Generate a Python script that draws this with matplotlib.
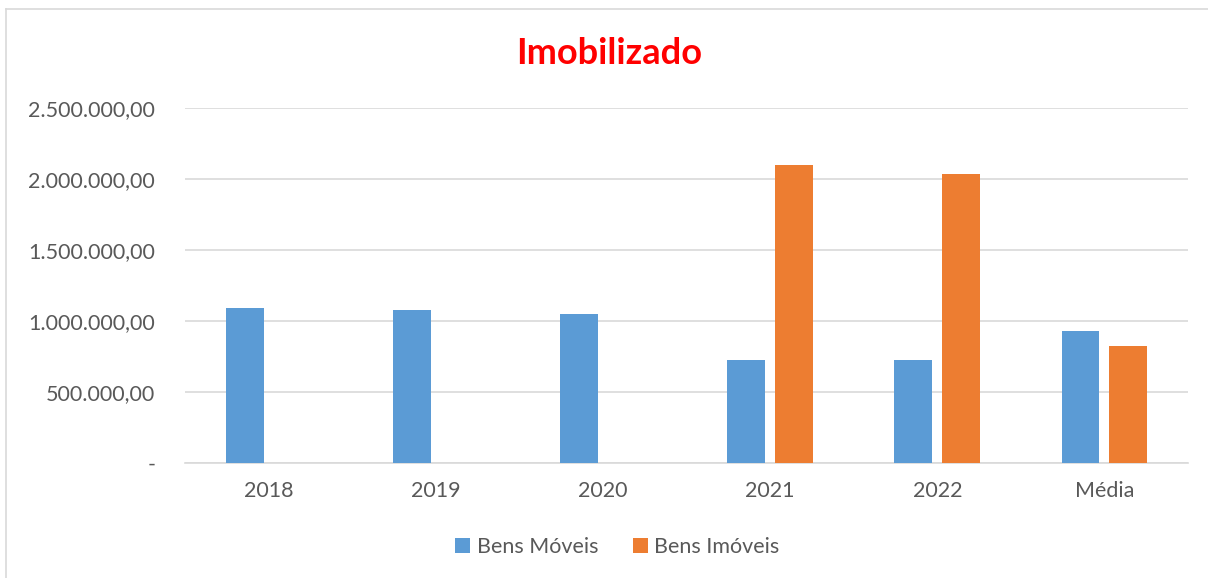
import numpy as np
import matplotlib
matplotlib.use('Agg')
import matplotlib.pyplot as plt
from matplotlib.ticker import FuncFormatter
from matplotlib.lines import Line2D

plt.rcParams['font.family'] = ['Lato', 'DejaVu Sans']

categorias = ['2018', '2019', '2020', '2021', '2022', 'Média']
bens_moveis = [1089600, 1077600, 1049000, 722700, 722700, 931500]
bens_imoveis = [0, 0, 0, 2101000, 2035000, 825700]
yticks = [0, 500000, 1000000, 1500000, 2000000, 2500000]

azul = '#5B9BD5'
laranja = '#ED7D31'
cinza = '#595959'


def fmt_br(v, pos=None):
    if v == 0:
        return '-'
    s = f'{v:,.2f}'
    return s.replace(',', 'X').replace('.', ',').replace('X', '.')


fig = plt.figure(figsize=(12.08, 5.78), dpi=100)
ax = fig.add_axes([185 / 1208, 1 - 462.7 / 578, (1188 - 185) / 1208, (462.7 - 108) / 578])

x = np.arange(len(categorias))
w = 0.227
off = 0.143
ax.bar(x - off, bens_moveis, w, color=azul, label='Bens Móveis', zorder=3)
ax.bar(x + off, bens_imoveis, w, color=laranja, label='Bens Imóveis', zorder=3)

ax.set_xlim(-0.5, len(categorias) - 0.5)
ax.set_ylim(0, 2500000)
ax.set_yticks(yticks)
ax.yaxis.set_major_formatter(FuncFormatter(fmt_br))
ax.set_xticks(x)
ax.set_xticklabels(categorias)
ax.tick_params(axis='both', length=0, labelsize=15.5, colors=cinza)
ax.tick_params(axis='x', pad=13.5)
ax.tick_params(axis='y', pad=21.5)
ax.grid(axis='y', color='#D9D9D9', linewidth=1.2, zorder=0)
for s in ['top', 'right', 'left']:
    ax.spines[s].set_visible(False)
ax.spines['bottom'].set_color('#D9D9D9')
ax.spines['bottom'].set_linewidth(1.2)

fig.text(0.504, 1 - 53 / 578, 'Imobilizado', color='#FF0000', fontsize=26,
         fontweight='bold', ha='center', va='center')

leg = fig.legend(loc='center', bbox_to_anchor=(0.511, 1 - 547 / 578), ncol=2,
                 frameon=False, fontsize=15.5, handlelength=0.7, handleheight=0.7,
                 handletextpad=0.3, columnspacing=1.6)
for t in leg.get_texts():
    t.set_color(cinza)

# moldura do gráfico (só topo e esquerda aparecem no recorte)
fig.lines.append(Line2D([6 / 1208, 6 / 1208], [0, 1 - 9 / 578], transform=fig.transFigure,
                        color='#D9D9D9', linewidth=1.2))
fig.lines.append(Line2D([6 / 1208, 1], [1 - 9 / 578, 1 - 9 / 578], transform=fig.transFigure,
                        color='#D9D9D9', linewidth=1.2))

fig.savefig('out.png', dpi=100, facecolor='white')
